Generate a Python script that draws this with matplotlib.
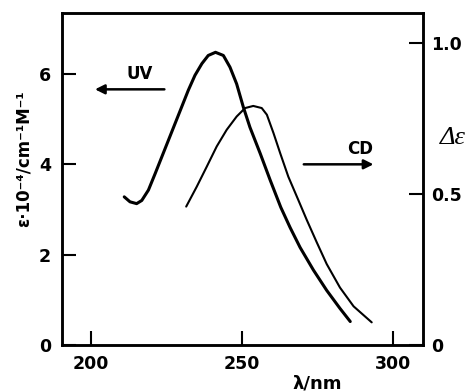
import matplotlib
matplotlib.use("Agg")
import matplotlib.pyplot as plt

# UV absorption (left axis, epsilon * 1e-4)
uv_nm = [211.1, 213.0, 215.2, 216.9, 219.1, 221.3, 223.5, 225.7, 227.9, 230.1,
         232.3, 234.5, 236.8, 238.9, 241.3, 243.9, 246.1, 248.3, 250.5, 252.7,
         256.1, 259.4, 262.9, 266.0, 269.3, 273.7, 278.1, 282.5, 285.9]
uv_eps = [3.28, 3.17, 3.13, 3.20, 3.43, 3.79, 4.16, 4.53, 4.90, 5.27,
          5.64, 5.97, 6.23, 6.41, 6.48, 6.41, 6.15, 5.78, 5.27, 4.82,
          4.24, 3.65, 3.05, 2.60, 2.16, 1.66, 1.21, 0.81, 0.52]

# CD spectrum (right axis, delta epsilon)
cd_nm = [231.6, 235.1, 238.4, 241.7, 245.0, 248.3, 251.1, 253.8, 256.6, 258.3,
         260.5, 262.7, 265.4, 268.7, 271.5, 274.8, 278.1, 282.5, 287.0, 293.0]
cd_de = [0.458, 0.524, 0.590, 0.657, 0.712, 0.756, 0.784, 0.791, 0.784, 0.762,
         0.701, 0.635, 0.557, 0.480, 0.414, 0.340, 0.268, 0.190, 0.128, 0.075]

xticks = [200, 250, 300]
uv_ticks = [0, 2, 4, 6]
cd_ticks = [0, 0.5, 1.0]
cd_ticklabels = ["0", "0.5", "1.0"]

fig = plt.figure(figsize=(4.68, 3.91), dpi=100)
ax = fig.add_axes([0.1325, 0.1176, 0.7715, 0.848])
ax2 = ax.twinx()

ax.plot(uv_nm, uv_eps, color="black", lw=2.2,
        solid_capstyle="round", solid_joinstyle="round")
ax2.plot(cd_nm, cd_de, color="black", lw=1.5,
         solid_capstyle="round", solid_joinstyle="round")

ax.set_xlim(190.5, 310)
ax.set_ylim(0, 7.34)
ax2.set_ylim(0, 1.097)

ax.set_xticks(xticks)
ax.set_yticks(uv_ticks)
ax2.set_yticks(cd_ticks)
ax2.set_yticklabels(cd_ticklabels)

for a in (ax, ax2):
    for sp in a.spines.values():
        sp.set_linewidth(1.8)
ax.tick_params(axis="both", direction="in", length=10, width=1.5,
               labelsize=12.5, pad=7)
ax.tick_params(axis="y", pad=8)
ax2.tick_params(axis="y", direction="in", length=10, width=1.5,
                labelsize=12.5, pad=6)
for lbl in ax.get_xticklabels() + ax.get_yticklabels() + ax2.get_yticklabels():
    lbl.set_fontweight("bold")

# axis titles
fig.text(24 / 468, 1 - 159 / 391, "ε·10⁻⁴/cm⁻¹M⁻¹", rotation=90,
         ha="center", va="center", fontsize=12, fontweight="bold")
fig.text(317 / 468, 1 - 383 / 391, "λ/nm", ha="center", va="center",
         fontsize=13, fontweight="bold")
fig.text(453 / 468, 1 - 138 / 391, "Δε", ha="center", va="center",
         fontsize=19, style="italic", family="Liberation Serif")

# curve labels with arrows
ax.text(216.3, 5.81, "UV", ha="center", va="bottom", fontsize=12,
        fontweight="bold")
ax.annotate("", xy=(200.5, 5.66), xytext=(225.3, 5.66),
            arrowprops=dict(arrowstyle="-|>", color="black", lw=1.8,
                            mutation_scale=14))
ax.text(289.1, 4.15, "CD", ha="center", va="bottom", fontsize=12,
        fontweight="bold")
ax.annotate("", xy=(294.5, 4.00), xytext=(269.6, 4.00),
            arrowprops=dict(arrowstyle="-|>", color="black", lw=1.8,
                            mutation_scale=14))

fig.savefig("out.png", dpi=100)
